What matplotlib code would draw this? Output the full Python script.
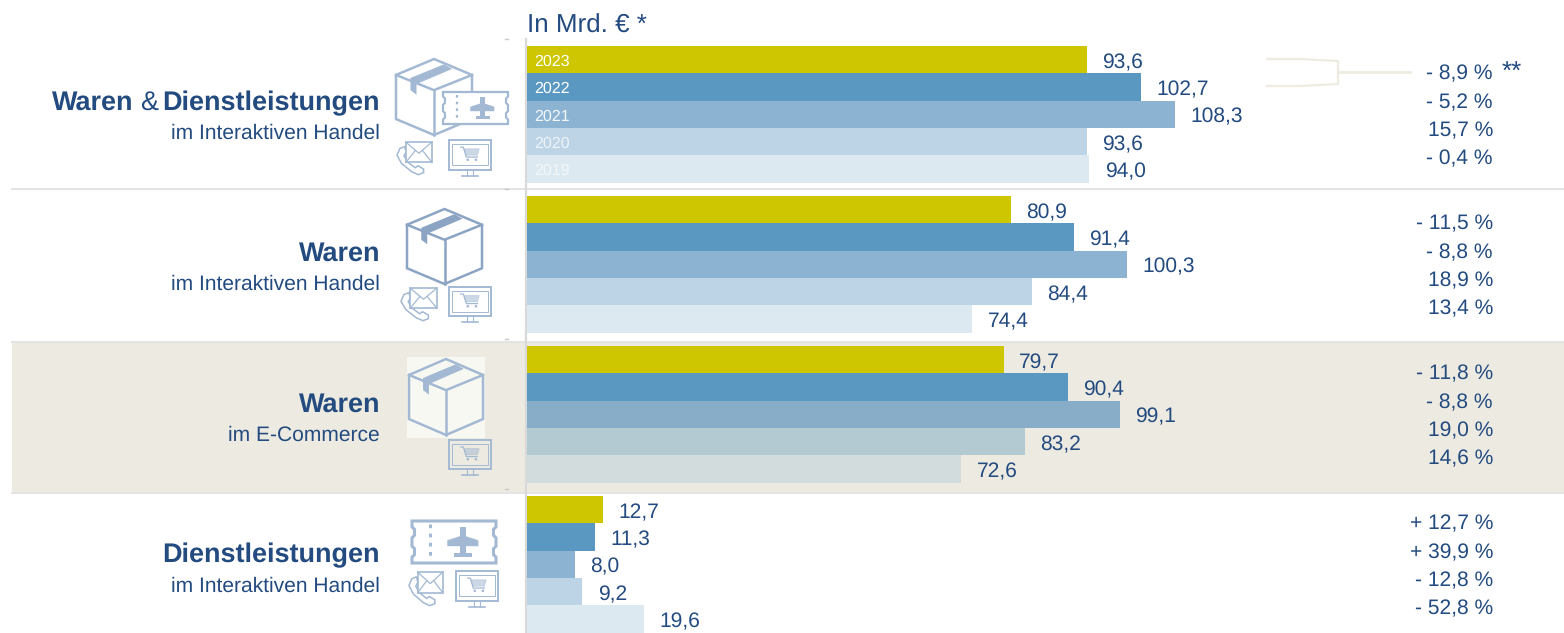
import matplotlib
matplotlib.use('Agg')
import matplotlib.pyplot as plt
from matplotlib.patches import Rectangle, Polygon, Circle

plt.rcParams['font.family'] = ['Liberation Sans', 'DejaVu Sans']
plt.rcParams['text.hinting'] = 'no_hinting'
plt.rcParams['text.hinting_factor'] = 1
plt.rcParams['text.kerning_factor'] = 0

# data
years = ['2023', '2022', '2021', '2020', '2019']
both_values = [93.6, 102.7, 108.3, 93.6, 94.0]
goods_values = [80.9, 91.4, 100.3, 84.4, 74.4]
ecommerce_values = [79.7, 90.4, 99.1, 83.2, 72.6]
services_values = [12.7, 11.3, 8.0, 9.2, 19.6]
both_changes = ['- 8,9 %', '- 5,2 %', '15,7 %', '- 0,4 %']
goods_changes = ['- 11,5 %', '- 8,8 %', '18,9 %', '13,4 %']
ecommerce_changes = ['- 11,8 %', '- 8,8 %', '19,0 %', '14,6 %']
services_changes = ['+ 12,7 %', '+ 39,9 %', '- 12,8 %', '- 52,8 %']

W, H = 1564, 633
TEXT = '#234B80'
ICON = '#A3B9D3'
ICON_DARK = '#8CA4C4'
RULE = '#E4E4E4'
BAND = '#EDEBE1'
colors = ['#CDC600', '#5B98C1', '#8CB4D2', '#BCD4E5', '#DDE9F1']
band_colors = ['#CDC600', '#5B98C1', '#88ADC8', '#B3CAD3', '#D2DCDC']
year_alpha = [1, 1, 0.9, 0.75, 0.6]

PX_PER_UNIT = 5.98
X0 = 527
BAR_H = 27.3
GROUP_TOPS = [46, 196, 346, 496]


def box_icon(ax, x, y, w, h, color, lw=1.8):
    """cardboard box, x/y is the top left corner in pixels"""
    def p(u, v):
        return (x + u * w, y + v * h)
    ax.add_patch(Polygon([p(0.5, 0), p(0, 0.21), p(0, 0.79), p(0.5, 1), p(1, 0.79), p(1, 0.21)],
                         closed=True, fill=False, ec=color, lw=lw, zorder=4))
    ax.plot(*zip(p(0, 0.21), p(0.5, 0.41), p(1, 0.21)), color=color, lw=lw, zorder=4)
    ax.plot(*zip(p(0.5, 0.41), p(0.5, 1)), color=color, lw=lw, zorder=4)
    ax.add_patch(Polygon([p(0.19, 0.25), p(0.63, 0.07), p(0.74, 0.13), p(0.27, 0.33),
                          p(0.27, 0.47), p(0.19, 0.41)], closed=True, fc=color, ec='none', zorder=4))


def ticket_icon(ax, x, y, w, h, color, fc='white', lw=1.6):
    def p(u, v):
        return (x + u * w, y + v * h)
    outline = [p(0, 0), p(1, 0), p(1, 0.14), p(0.97, 0.2), p(0.97, 0.34), p(1, 0.4), p(1, 0.6),
               p(0.97, 0.66), p(0.97, 0.8), p(1, 0.86), p(1, 1),
               p(0, 1), p(0, 0.86), p(0.03, 0.8), p(0.03, 0.66), p(0, 0.6), p(0, 0.4),
               p(0.03, 0.34), p(0.03, 0.2), p(0, 0.14)]
    ax.add_patch(Polygon(outline, closed=True, fc=fc, ec=color, lw=lw, zorder=5))
    ax.plot([x + 0.22 * w] * 2, [y + 0.08 * h, y + 0.92 * h], color=color, lw=lw,
            ls=(0, (1.2, 1.8)), zorder=6)
    # plane
    ax.add_patch(Rectangle(p(0.57, 0.15), 0.07 * w, 0.66 * h, fc=color, ec='none', zorder=6))
    ax.add_patch(Polygon([p(0.42, 0.46), p(0.57, 0.36), p(0.64, 0.36), p(0.79, 0.46), p(0.79, 0.6),
                          p(0.42, 0.6)], closed=True, fc=color, ec='none', zorder=6))
    ax.add_patch(Rectangle(p(0.5, 0.76), 0.22 * w, 0.09 * h, fc=color, ec='none', zorder=6))


def monitor_icon(ax, x, y, w, h, color):
    ax.add_patch(Rectangle((x, y), w, 0.83 * h, fc='none', ec=color, lw=1.4, zorder=5))
    ax.add_patch(Rectangle((x + 0.08 * w, y + 0.1 * h), 0.84 * w, 0.6 * h, fc='none', ec=color,
                           lw=0.7, zorder=5))
    ax.plot([x + 0.32 * w, x + 0.68 * w], [y + h, y + h], color=color, lw=1.2, zorder=5)
    ax.plot([x + 0.42 * w, x + 0.42 * w], [y + 0.83 * h, y + h], color=color, lw=0.8, zorder=5)
    ax.plot([x + 0.58 * w, x + 0.58 * w], [y + 0.83 * h, y + h], color=color, lw=0.8, zorder=5)
    # cart
    cx, cy = x + 0.28 * w, y + 0.2 * h
    cw, ch = 0.44 * w, 0.38 * h
    ax.plot([cx, cx + 0.14 * cw, cx + 0.3 * cw, cx + 0.9 * cw],
            [cy, cy, cy + 0.72 * ch, cy + 0.72 * ch], color=color, lw=0.9, zorder=5)
    ax.add_patch(Polygon([(cx + 0.18 * cw, cy + 0.12 * ch), (cx + cw, cy + 0.12 * ch),
                          (cx + 0.9 * cw, cy + 0.58 * ch), (cx + 0.28 * cw, cy + 0.58 * ch)],
                         closed=True, fc=color, ec=color, lw=0.6, alpha=0.55, zorder=5))
    ax.add_patch(Circle((cx + 0.38 * cw, cy + 0.92 * ch), 1.3, fc=color, ec='none', zorder=5))
    ax.add_patch(Circle((cx + 0.82 * cw, cy + 0.92 * ch), 1.3, fc=color, ec='none', zorder=5))


def mail_icon(ax, x, y, w, h, color):
    def p(u, v):
        return (x + u * w, y + v * h)
    # phone handset behind the letter
    handset = [p(0.08, 0.2), p(0, 0.4), p(0.13, 0.65), p(0.42, 0.9), p(0.61, 0.99), p(0.76, 0.93),
               p(0.76, 0.82), p(0.6, 0.72), p(0.52, 0.78), p(0.32, 0.62), p(0.2, 0.42), p(0.26, 0.3),
               p(0.22, 0.14)]
    ax.add_patch(Polygon(handset, closed=True, fc='white', ec=color, lw=1.1, zorder=4))
    ex, ey, ew, eh = x + 0.25 * w, y, 0.75 * w, 0.62 * h
    ax.add_patch(Rectangle((ex, ey), ew, eh, fc='white', ec=color, lw=1.2, zorder=5))
    ax.plot([ex, ex + ew / 2, ex + ew], [ey, ey + 0.55 * eh, ey], color=color, lw=0.9, zorder=6)
    ax.plot([ex, ex + 0.36 * ew], [ey + eh, ey + 0.42 * eh], color=color, lw=0.9, zorder=6)
    ax.plot([ex + ew, ex + 0.64 * ew], [ey + eh, ey + 0.42 * eh], color=color, lw=0.9, zorder=6)


fig = plt.figure(figsize=(W / 100, H / 100), dpi=100)
bg = fig.add_axes([0, 0, 1, 1])
bg.set_xlim(0, W)
bg.set_ylim(H, 0)
bg.axis('off')

ax = fig.add_axes([0, 0, 1, 1], sharey=bg)
ax.patch.set_alpha(0)
ax.set_xlim(-X0 / PX_PER_UNIT, (W - X0) / PX_PER_UNIT)
ax.axis('off')

# background band and rules
bg.add_patch(Rectangle((12, 342), W - 12, 150, fc=BAND, ec='none', zorder=0))
for y in [189, 341.5, 492.5]:
    bg.plot([12, W], [y, y], color=RULE, lw=1.4, zorder=1)
bg.plot([526, 526], [39, H], color='#D9D9D9', lw=1.6, zorder=1)
for y in [39, 189, 339, 489]:
    bg.plot([504.5, 507.5], [y, y], color='#C8C8C8', lw=1, zorder=1)

# bars
groups = [
    (both_values, both_changes, colors),
    (goods_values, goods_changes, colors),
    (ecommerce_values, ecommerce_changes, band_colors),
    (services_values, services_changes, colors),
]
for g, (values, changes, cols) in enumerate(groups):
    top = GROUP_TOPS[g]
    centers = [top + BAR_H * (i + 0.5) for i in range(len(values))]
    ax.barh(centers, values, height=BAR_H, color=cols, linewidth=0, zorder=3)
    for c, v in zip(centers, values):
        ax.annotate(f'{v:.1f}'.replace('.', ','), xy=(v, c + 0.7), xytext=(11.2, 0),
                    textcoords='offset points', va='center_baseline', ha='left',
                    fontsize=15.3, color=TEXT, zorder=7)
    for i, ch in enumerate(changes):
        bg.text(1493, top + 26 + i * 28.4, ch, ha='right', va='center_baseline',
                fontsize=15, color=TEXT)

# year labels in the first group, above the bars
first_centers = [GROUP_TOPS[0] + BAR_H * (i + 0.5) for i in range(len(years))]
for c, yr, a in zip(first_centers, years, year_alpha):
    ax.annotate(yr, xy=(0, c + 0.5), xytext=(5, 0), textcoords='offset points', color='white',
                alpha=a, fontsize=11.6, va='center_baseline', ha='left', zorder=7)

# header and footnote
bg.text(527, 23, 'In Mrd. € *', fontsize=19, color=TEXT, ha='left', va='center_baseline')
bg.text(1502, 80, '**', fontsize=19, color=TEXT, ha='left', va='baseline')

# bracket to the first change value
bg.plot([1267, 1300, 1338, 1338, 1338, 1300, 1267], [59, 59, 61, 72, 84, 86, 86],
        color='#EEECE1', lw=1.6, zorder=1)
bg.plot([1338, 1410], [72, 72], color='#EEECE1', lw=2, zorder=1)

# row labels
bold = dict(fontsize=19.3, fontweight='bold', color=TEXT, va='center_baseline')
sub = dict(fontsize=15.4, color=TEXT, va='center_baseline', ha='right')
bg.text(133, 100, 'Waren', ha='right', **bold)
bg.text(149, 100, '&', fontsize=19.3, color=TEXT, va='center_baseline', ha='center')
bg.text(380, 100, 'Dienstleistungen', ha='right', **bold)
bg.text(380, 131.5, 'im Interaktiven Handel', **sub)
bg.text(380, 251, 'Waren', ha='right', **bold)
bg.text(380, 282.5, 'im Interaktiven Handel', **sub)
bg.text(380, 402, 'Waren', ha='right', **bold)
bg.text(380, 433.5, 'im E-Commerce', **sub)
bg.text(380, 553, 'Dienstleistungen', ha='right', **bold)
bg.text(380, 584.5, 'im Interaktiven Handel', **sub)

# icons
box_icon(bg, 396, 59, 76, 76, ICON)
ticket_icon(bg, 443, 92, 65, 32, ICON)
mail_icon(bg, 397, 142, 35, 33, ICON)
monitor_icon(bg, 449, 140, 42, 36, ICON)

box_icon(bg, 407, 209, 75, 75, ICON_DARK)
mail_icon(bg, 401, 288, 36, 33, ICON)
monitor_icon(bg, 449, 287, 42, 35, ICON)

bg.add_patch(Rectangle((407, 357), 78, 81, fc='#F8F8F3', ec='none', zorder=2))
box_icon(bg, 409, 359, 74, 76, ICON)
monitor_icon(bg, 449, 440, 42, 35, ICON)

ticket_icon(bg, 412, 521, 84, 42, ICON, lw=2.2)
mail_icon(bg, 409, 572, 34, 34, ICON)
monitor_icon(bg, 456, 571, 42, 36, ICON)

fig.savefig('out.png', dpi=100)
